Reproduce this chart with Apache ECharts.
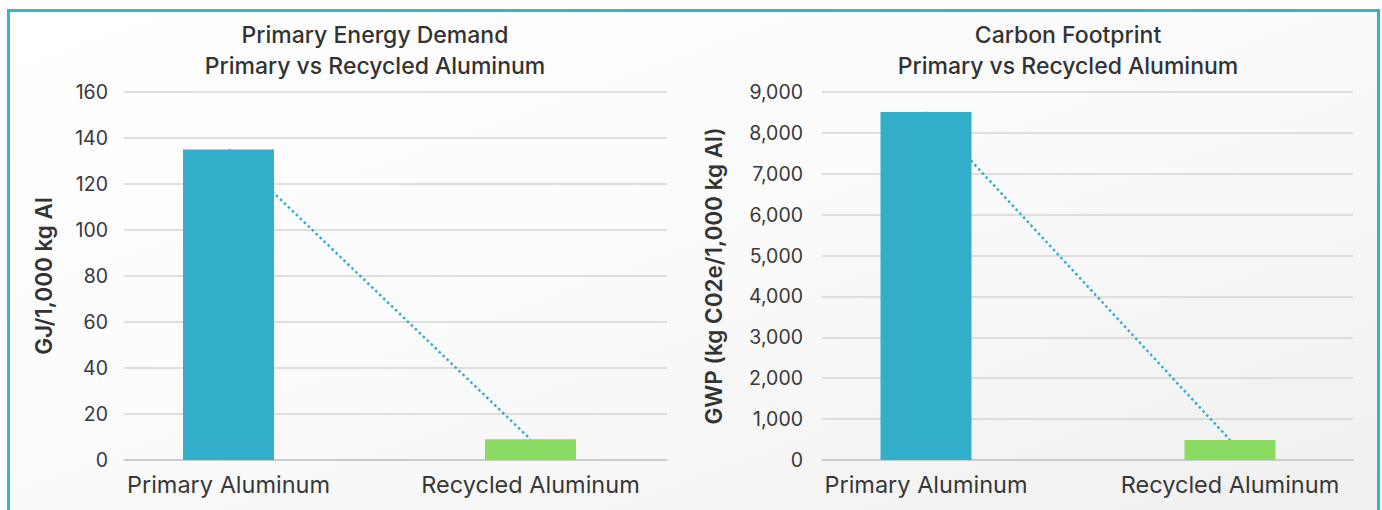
<!DOCTYPE html>
<html><head><meta charset="utf-8">
<script src="https://cdn.jsdelivr.net/npm/echarts@6/dist/echarts.min.js"></script>
<style>
html,body{margin:0;padding:0;background:#fff;width:1382px;height:510px;overflow:hidden;}
#frame{position:absolute;left:7px;top:9px;width:1367px;height:520px;border:3px solid #38B3CC;background:linear-gradient(160deg,#ffffff 0%,#fbfbfb 45%,#efefef 100%);}
#chart{position:absolute;left:0;top:0;width:1382px;height:510px;}
</style></head><body><div id="frame"></div><div id="chart"></div>
<script>
// ---- data ----
const categories = ['Primary Aluminum', 'Recycled Aluminum'];
const energyValues = [135, 9];          // GJ / 1,000 kg Al
const carbonValues = [8510, 490];       // kg CO2e / 1,000 kg Al
const energyTitle = ['Primary Energy Demand', 'Primary vs Recycled Aluminum'];
const carbonTitle = ['Carbon Footprint', 'Primary vs Recycled Aluminum'];
const energyAxisName = 'GJ/1,000 kg Al';
const carbonAxisName = 'GWP (kg C02e/1,000 kg Al)';
const energyScale = { min: 0, max: 160, interval: 20 };
const carbonScale = { min: 0, max: 9000, interval: 1000 };

// ---- styles ----
const barColors = ['#33AFC9', '#8BDB63'];
const FONT = 'Inter, "Noto Sans", sans-serif';
const textColor = '#383838';

function barData(vals) {
  return vals.map((v, i) => ({ value: v, itemStyle: { color: barColors[i] } }));
}

function panel(idx, vals, scale, axisName, nameGap, labelMargin, fmt) {
  const gA = idx * 2, gB = idx * 2 + 1;
  return {
    xAxis: [
      { gridIndex: gA, type: 'category', data: categories,
        axisLine: { show: true, lineStyle: { color: '#c6c6c6', width: 1.5 } },
        axisTick: { show: false }, axisLabel: { show: false } },
      { gridIndex: gB, type: 'category', data: categories,
        axisLine: { show: false }, axisTick: { show: false },
        axisLabel: { fontSize: 23.5, color: textColor, fontFamily: FONT, margin: 12 } }
    ],
    yAxis: [
      { gridIndex: gA, type: 'value', min: scale.min, max: scale.max, interval: scale.interval,
        axisLine: { show: false }, axisTick: { show: false },
        axisLabel: { fontSize: 19.5, color: textColor, fontFamily: FONT, margin: labelMargin, formatter: fmt },
        splitLine: { lineStyle: { color: '#d4d4d4', width: 1.5 } },
        name: axisName, nameLocation: 'middle', nameGap: nameGap,
        nameTextStyle: { fontSize: 22.5, fontWeight: 600, color: '#333', fontFamily: FONT } },
      { gridIndex: gB, type: 'value', min: scale.min, max: scale.max, interval: scale.interval, show: false }
    ],
    series: [
      { type: 'line', xAxisIndex: idx * 2 + 1, yAxisIndex: idx * 2 + 1, data: vals,
        symbol: 'none', z: 1, silent: true,
        lineStyle: { color: '#2DAFCD', width: 2.5, type: [2.5, 3], cap: 'butt' } },
      { type: 'bar', xAxisIndex: idx * 2 + 1, yAxisIndex: idx * 2 + 1, data: barData(vals),
        barWidth: 91, z: 2 }
    ]
  };
}

const fmtInt = v => v.toLocaleString('en-US');
const p1 = panel(0, energyValues, energyScale, energyAxisName, 69, 16, fmtInt);
const p2 = panel(1, carbonValues, carbonScale, carbonAxisName, 97, 19, fmtInt);

const titleStyle = { fontSize: 23, fontWeight: 500, fontFamily: FONT, fill: '#333', align: 'center', verticalAlign: 'top', lineHeight: 31 };

const option = {
  backgroundColor: 'transparent',
  animation: false,
  grid: [
    { left: 124, width: 543, top: 92, height: 368 },
    { left: 77.5, width: 604, top: 92, height: 368 },
    { left: 822, width: 531, top: 92, height: 368 },
    { left: 774, width: 614, top: 92, height: 368 }
  ],
  xAxis: p1.xAxis.concat(p2.xAxis),
  yAxis: p1.yAxis.concat(p2.yAxis),
  series: p1.series.concat(p2.series),
  graphic: [
    { type: 'text', x: 375, y: 19, style: Object.assign({ text: energyTitle.join('\n') }, titleStyle) },
    { type: 'text', x: 1068, y: 19, style: Object.assign({ text: carbonTitle.join('\n') }, titleStyle) }
  ]
};

const chart = echarts.init(document.getElementById('chart'), null, { renderer: 'svg' });
chart.setOption(option);
</script>
</body></html>
